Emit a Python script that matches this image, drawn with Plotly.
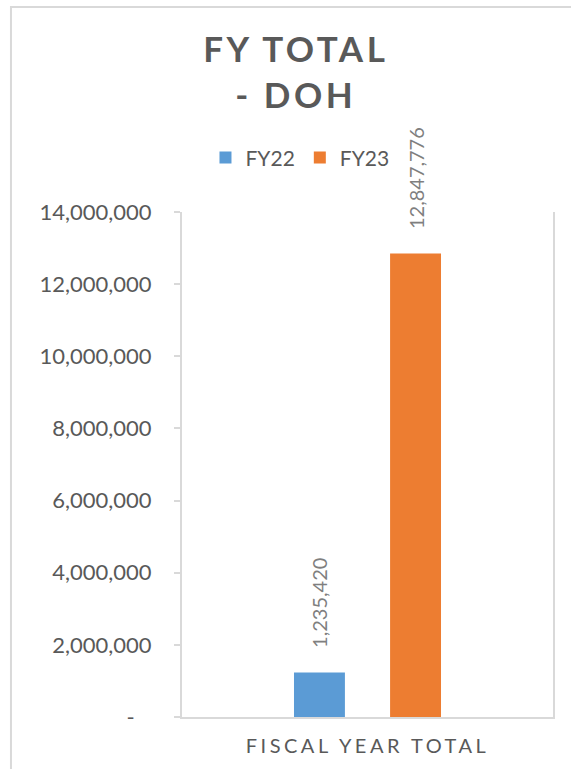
import plotly.graph_objects as go

categories = ["Fiscal Year Total"]
series_names = ["FY22", "FY23"]
fy22_values = [1235420]
fy23_values = [12847776]
series_colors = ["#5B9BD5", "#ED7D31"]
y_tick_vals = [0, 2000000, 4000000, 6000000, 8000000, 10000000, 12000000, 14000000]
y_tick_text = ["-\u00a0\u00a0\u00a0", "2,000,000", "4,000,000", "6,000,000", "8,000,000",
               "10,000,000", "12,000,000", "14,000,000"]
x_tick_text = ["FISCAL YEAR TOTAL"]

FONT = "Lato"
GREY = "#595959"
LINE = "#D9D9D9"

fig = go.Figure()
for name, vals, col in zip(series_names, [fy22_values, fy23_values], series_colors):
    fig.add_trace(go.Bar(x=categories, y=vals, name=name, marker=dict(color=col, line=dict(width=0))))

for i, vals in enumerate([fy22_values, fy23_values]):
    for c, v in zip(categories, vals):
        fig.add_annotation(x=c, y=v, xref="x", yref="y", text=f"{v:,}", showarrow=False,
                           textangle=-90, yanchor="bottom", xanchor="center",
                           xshift=(-48 if i == 0 else 48), yshift=22,
                           font=dict(family=FONT, size=20, color="#7F7F7F"))

fig.add_shape(type="rect", xref="paper", yref="paper", x0=-0.461, x1=2.0, y0=-1.0, y1=1.406,
              line=dict(color=LINE, width=2), fillcolor="rgba(0,0,0,0)", layer="below")

fig.update_layout(
    width=571, height=769,
    margin=dict(l=182, r=18, t=212, b=52),
    paper_bgcolor="white", plot_bgcolor="white",
    barmode="group", bargap=0.482, bargroupgap=0.47,
    title=dict(text="FY TOTAL<br>- DOH", xref="container", x=0.518, xanchor="center",
               yref="container", y=0.919, yanchor="top",
               font=dict(family=FONT, size=35, color=GREY, weight="bold")),
    legend=dict(orientation="h", xref="paper", x=0.318, xanchor="center",
                yref="paper", y=1.107, yanchor="middle",
                font=dict(family=FONT, size=21, color=GREY), itemwidth=30,
                tracegroupgap=0),
    showlegend=True,
    xaxis=dict(tickvals=categories, ticktext=x_tick_text, showline=True, linecolor=LINE, linewidth=2,
               ticks="", showgrid=False, tickfont=dict(family=FONT, size=20, color=GREY),
               ticklabelstandoff=10),
    yaxis=dict(range=[0, 14000000], tickvals=y_tick_vals, ticktext=y_tick_text,
               showline=True, mirror=True, linecolor=LINE, linewidth=2,
               ticks="outside", ticklen=6, tickcolor=LINE, tickwidth=2,
               showgrid=False, zeroline=False,
               tickfont=dict(family=FONT, size=22, color=GREY), ticklabelstandoff=18),
)

post = """
document.body.style.margin='0';
document.body.style.overflow='hidden';
function sp(){
  document.querySelectorAll('.gtitle').forEach(function(e){e.style.letterSpacing='3.5px';});
  document.querySelectorAll('.xtick text').forEach(function(e){e.style.letterSpacing='3.5px';});
}
sp(); setTimeout(sp, 50);
"""
fig.write_html("out.html", post_script=post, config={"displayModeBar": False})
